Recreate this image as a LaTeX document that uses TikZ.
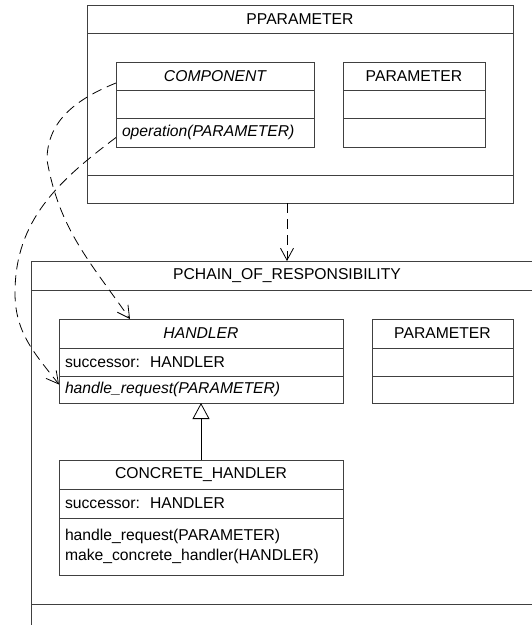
\documentclass[tikz,border=0pt]{standalone}
\usepackage{fontspec}
\setmainfont{Liberation Sans}
\usetikzlibrary{arrows.meta}

\tikzset{
	box/.style={draw=black!75, line width=0.9pt, inner sep=0pt, outer sep=0pt, anchor=north west},
	cell/.style={box, minimum width=#1, minimum height=28pt},
	entry/.style={box, text width=#1, inner xsep=6pt, minimum height=28pt, align=left},
	depend/.style={black, line width=0.8pt, dash pattern=on 10pt off 6pt, -{Straight Barb[length=12pt,width=13pt]}},
	inherit/.style={black, line width=0.8pt, -{Triangle[open,length=16pt,width=17pt,fill=white]}}
}

\begin{document}
\begin{tikzpicture}[x=1pt, y=-1pt, font=\fontsize{15.7}{19.5}\selectfont]
	\useasboundingbox (0,0) rectangle (532,625);

	%PACKAGES
	\node[cell=426pt] (pparam) at (87,5) {PPARAMETER};
	\node[cell=426pt, minimum height=142pt] (pparam-body) at (pparam.south west) {};
	\node[cell=426pt] (pparam-foot) at (pparam-body.south west) {};

	\node[cell=512pt, minimum height=29pt] (pchain) at (31,261) {PCHAIN\_OF\_RESPONSIBILITY};
	\node[cell=512pt, minimum height=314pt] (pchain-body) at (pchain.south west) {};
	\node[cell=512pt] (pchain-foot) at (pchain-body.south west) {};


	%CLASSES
	\node[cell=198pt] (component) at (116,62) {\itshape COMPONENT};
	\node[cell=198pt] (component-attr) at (component.south west) {};
	\node[entry=186pt, minimum height=29pt] (component-ops) at (component-attr.south west) {\itshape operation(PARAMETER)};

	\node[cell=142pt] (param) at (343,62) {PARAMETER};
	\node[cell=142pt] (param-attr) at (param.south west) {};
	\node[cell=142pt, minimum height=29pt] (param-ops) at (param-attr.south west) {};

	\node[cell=284pt, minimum height=29pt] (handler) at (59,319) {\itshape HANDLER};
	\node[entry=272pt] (handler-attr) at (handler.south west) {successor:\hspace{10pt}HANDLER};
	\node[entry=272pt, minimum height=27pt] (handler-ops) at (handler-attr.south west) {\itshape handle\_request(PARAMETER)};

	\node[cell=141pt, minimum height=29pt] (param2) at (372,319) {PARAMETER};
	\node[cell=141pt] (param2-attr) at (param2.south west) {};
	\node[cell=141pt, minimum height=27pt] (param2-ops) at (param2-attr.south west) {};

	\node[cell=284pt, minimum height=29pt] (concrete) at (59,460) {CONCRETE\_HANDLER};
	\node[entry=272pt, minimum height=29pt] (concrete-attr) at (concrete.south west) {successor:\hspace{10pt}HANDLER};
	\node[entry=272pt, minimum height=57pt] (concrete-ops) at (concrete-attr.south west) {handle\_request(PARAMETER)\\make\_concrete\_handler(HANDLER)};


	%ARROWS
	\coordinate (bendA) at (47,160);
	\coordinate (bendB) at (15,293);

	\draw[depend] (pchain.north |- pparam-foot.south) -- (pchain.north);
	\draw[inherit] (concrete.north) -- (handler-ops.south);
	\draw[depend] ([yshift=-7pt]component.west) to[out=202,in=90] (bendA) to[out=-80,in=125] ([xshift=71pt]handler.north west);
	\draw[depend] ([yshift=-5pt]component-ops.west) to[out=217,in=90] (bendB) to[out=-90,in=128] ([yshift=5pt]handler-ops.west);
\end{tikzpicture}
\end{document}
